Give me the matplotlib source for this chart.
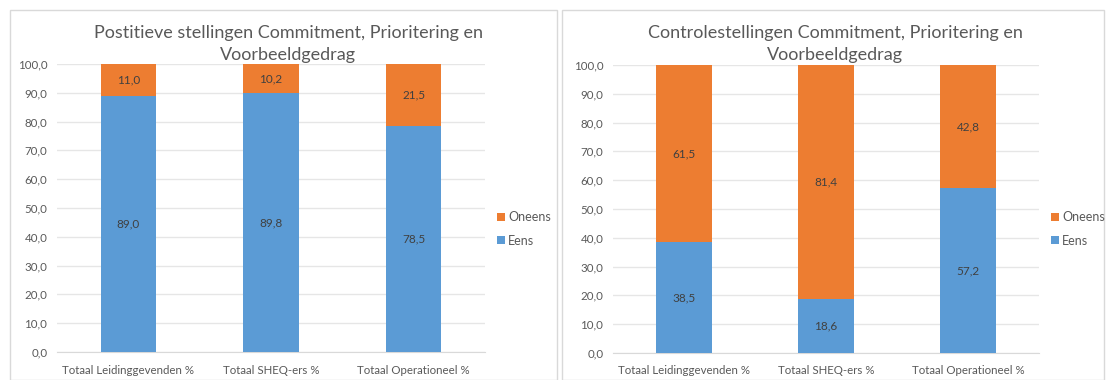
import numpy as np
import matplotlib.pyplot as plt
from matplotlib.patches import Rectangle

plt.rcParams['font.family'] = ['Lato', 'DejaVu Sans']

categories = ['Totaal Leidinggevenden %', 'Totaal SHEQ-ers %', 'Totaal Operationeel %']
pos_eens = [89.0, 89.8, 78.5]
pos_oneens = [11.0, 10.2, 21.5]
ctrl_eens = [38.5, 18.6, 57.2]
ctrl_oneens = [61.5, 81.4, 42.8]
titles = ['Postitieve stellingen Commitment, Prioritering en\nVoorbeeldgedrag',
          'Controlestellingen Commitment, Prioritering en\nVoorbeeldgedrag']

BLUE = '#5B9BD5'
ORANGE = '#ED7D31'
GREY = '#595959'

W, H = 1106, 380
fig = plt.figure(figsize=(W / 100, H / 100), dpi=100)


def px(x0, y0, x1, y1):
    # pixel box (top-left origin) -> figure fraction rect
    return [x0 / W, 1 - y1 / H, (x1 - x0) / W, (y1 - y0) / H]


# panel borders
for x0, x1 in [(10, 557), (562, 1104)]:
    fig.patches.append(Rectangle((x0 / W, 0), (x1 - x0) / W, 1 - 10 / H,
                                 transform=fig.transFigure, fill=False,
                                 edgecolor='#D9D9D9', linewidth=1))

panels = [
    (px(57, 64, 485, 352), pos_eens, pos_oneens, titles[0], 288, 497),
    (px(613, 65, 1039, 353), ctrl_eens, ctrl_oneens, titles[1], 835, 1051),
]

x = np.arange(len(categories))
for rect, eens, oneens, title, tx, lx in panels:
    ax = fig.add_axes(rect)
    b1 = ax.bar(x, eens, width=0.39, color=BLUE, label='Eens', zorder=3)
    b2 = ax.bar(x, oneens, width=0.39, bottom=eens, color=ORANGE, label='Oneens', zorder=3)
    for bars, vals, bottoms in [(b1, eens, [0] * 3), (b2, oneens, eens)]:
        for xi, v, b in zip(x, vals, bottoms):
            ax.text(xi, b + v / 2, f'{v:.1f}'.replace('.', ','), ha='center', va='center',
                    fontsize=8.5, color='#404040', zorder=4)
    ax.set_xlim(-0.5, 2.5)
    ax.set_ylim(0, 100)
    ax.set_yticks(np.arange(0, 101, 10))
    ax.set_yticklabels([f'{v:.1f}'.replace('.', ',') for v in np.arange(0, 101, 10)])
    ax.set_xticks(x)
    ax.set_xticklabels(categories)
    ax.tick_params(length=0, labelsize=8.3, colors=GREY)
    ax.tick_params(axis='x', pad=9)
    ax.tick_params(axis='y', pad=7)
    ax.grid(axis='y', color='#E6E6E6', linewidth=1, zorder=0)
    for s in ['top', 'right', 'left']:
        ax.spines[s].set_visible(False)
    ax.spines['bottom'].set_color('#D9D9D9')
    fig.text(tx / W, 1 - 44 / H, title, ha='center', va='center', fontsize=13,
             color=GREY, linespacing=1.5)
    handles = [b2, b1]
    leg = fig.legend(handles, ['Oneens', 'Eens'], loc='center left',
                     bbox_to_anchor=(lx / W, 1 - 229 / H), frameon=False,
                     fontsize=9, handlelength=0.6, handleheight=0.6,
                     handletextpad=0.3, labelspacing=0.9, borderpad=0, borderaxespad=0)
    for t in leg.get_texts():
        t.set_color(GREY)

fig.savefig('out.png', dpi=100)
